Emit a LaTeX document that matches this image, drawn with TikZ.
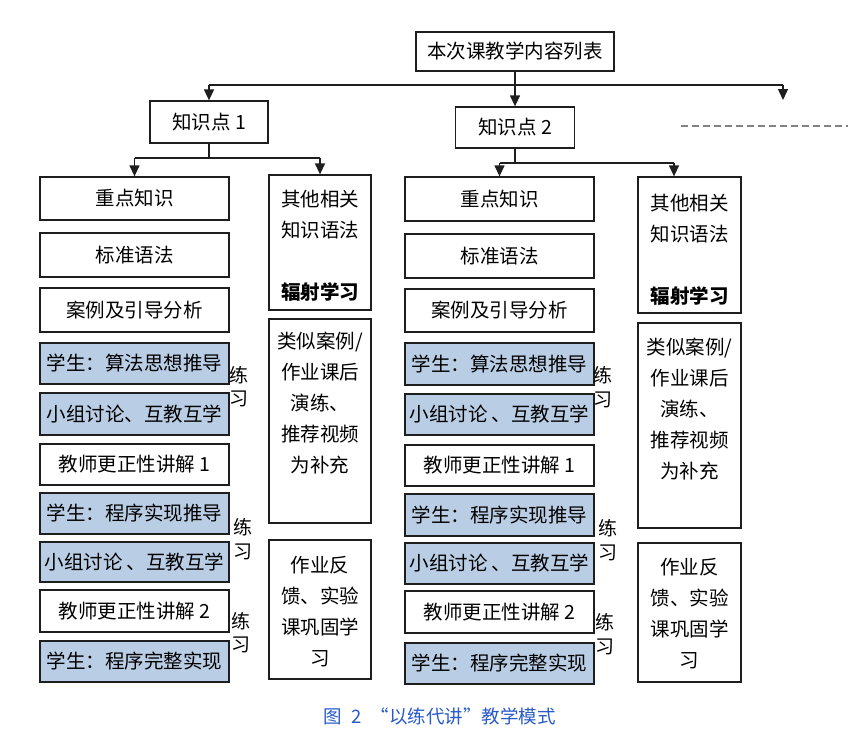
\documentclass[tikz,border=0pt]{standalone}
\usepackage{fontspec}
\setmainfont{Noto Sans CJK SC}
\usetikzlibrary{arrows.meta}
\definecolor{boxfill}{RGB}{185,205,228}
\definecolor{capblue}{RGB}{40,90,200}
\definecolor{edge}{RGB}{30,30,30}
\definecolor{dashgrey}{RGB}{130,130,130}
\begin{document}
\begin{tikzpicture}[x=1pt,y=-1pt,
  every node/.style={font=\fontsize{19.5}{23}\selectfont, inner sep=0pt},
  box/.style={draw=edge, line width=1.3pt, fill=white, minimum width=189pt, minimum height=42pt},
  sbox/.style={box, fill=boxfill},
  rbox/.style={draw=edge, line width=1.3pt, minimum width=102pt},
  arr/.style={draw=edge, line width=1.3pt, -{Triangle[width=10pt,length=11pt]}},
  ln/.style={draw=edge, line width=1.3pt},
  lx/.style={font=\fontsize{19}{23.5}\selectfont, align=center},
  rt/.style={font=\fontsize{19.5}{31}\selectfont, align=center},
]
\useasboundingbox (0,0) rectangle (864,732);

% top level
\node[box, minimum width=198pt, minimum height=39pt] (top) at (515,51.5) {本次课教学内容列表};
\node[box, minimum width=118pt] (kp1) at (209,122) {知识点 1};
\node[box, minimum width=119pt, minimum height=41pt] (kp2) at (515,127.5) {知识点 2};

\coordinate (bus) at (0,85);
\coordinate (more) at (783,100);
\draw[ln] (top.south) -- (top.south |- bus);
\draw[ln] (kp1.north |- bus) -- (more |- bus);
\draw[arr] (kp1.north |- bus) -- (kp1.north);
\draw[arr] (top.south |- bus) -- (kp2.north);
\draw[arr] (more |- bus) -- (more);

\coordinate (dashA) at (681,126);
\coordinate (dashB) at (848,126);
\draw[dashgrey, line width=2.5pt, dash pattern=on 7pt off 4pt] (dashA) -- (dashB);

% group 1 left column
\node[box, minimum height=43pt] (l1a) at (134.5,198.5) {重点知识};
\node[box, minimum height=44pt] (l1b) at (134.5,255) {标准语法};
\node[box, minimum height=44pt] (l1c) at (134.5,310) {案例及引导分析};
\node[sbox, minimum height=41pt] (l1d) at (134.5,363.5) {学生：算法思想推导};
\node[sbox, minimum height=42pt] (l1e) at (134.5,414) {小组讨论、互教互学};
\node[box, minimum height=41pt] (l1f) at (134.5,464.5) {教师更正性讲解 1};
\node[sbox, minimum height=41pt] (l1g) at (134.5,513.5) {学生：程序实现推导};
\node[sbox, minimum height=40pt] (l1h) at (134.5,562) {小组讨论 、互教互学};
\node[box, minimum height=42pt] (l1i) at (134.5,611) {教师更正性讲解 2};
\node[sbox, minimum height=41pt] (l1j) at (134.5,661.5) {学生：程序完整实现};

% group 1 right column
\node[rbox, minimum height=135pt] (r1a) at (320,242.5) {};
\node[rbox, minimum height=204pt] (r1b) at (320,421) {};
\node[rbox, minimum height=139pt] (r1c) at (320,609.5) {};
\node[rt] (t1a) at (320,245.5) {其他相关\\知识语法\\~\\\textbf{辐射学习}};
\node[rt] (t1b) at (320,403.5) {类似案例/\\作业课后\\演练、\\推荐视频\\为补充};
\node[rt] (t1c) at (320,611.5) {作业反\\馈、实验\\课巩固学\\习};

% practice labels group 1
\node[lx] (x1a) at (239,386.5) {练\\习};
\node[lx] (x1b) at (243,539) {练\\习};
\node[lx] (x1c) at (241,632.5) {练\\习};

% group 1 connectors
\coordinate (bus1) at (0,158);
\draw[ln] (kp1.south) -- (kp1.south |- bus1);
\draw[ln] (l1a.north |- bus1) -- (r1a.north |- bus1);
\draw[arr] (l1a.north |- bus1) -- (l1a.north);
\draw[arr] (r1a.north |- bus1) -- (r1a.north);

% group 2 left column
\node[box, minimum height=44pt] (l2a) at (499.5,199) {重点知识};
\node[box, minimum height=44pt] (l2b) at (499.5,256) {标准语法};
\node[box, minimum height=43pt] (l2c) at (499.5,310.5) {案例及引导分析};
\node[sbox, minimum height=42pt] (l2d) at (499.5,364) {学生：算法思想推导};
\node[sbox, minimum height=41pt] (l2e) at (499.5,414.5) {小组讨论 、互教互学};
\node[box, minimum height=41pt] (l2f) at (499.5,465.5) {教师更正性讲解 1};
\node[sbox, minimum height=42pt] (l2g) at (499.5,515) {学生：程序实现推导};
\node[sbox, minimum height=41pt] (l2h) at (499.5,563.5) {小组讨论 、互教互学};
\node[box, minimum height=42pt] (l2i) at (499.5,612) {教师更正性讲解 2};
\node[sbox, minimum height=41pt] (l2j) at (499.5,663.5) {学生：程序完整实现};

% group 2 right column
\node[rbox, minimum width=103pt, minimum height=136pt] (r2a) at (689.5,245) {};
\node[rbox, minimum width=103pt, minimum height=205pt] (r2b) at (689.5,425.5) {};
\node[rbox, minimum width=103pt, minimum height=139pt] (r2c) at (689.5,612.5) {};
\node[rt] (t2a) at (689.5,250) {其他相关\\知识语法\\~\\\textbf{辐射学习}};
\node[rt] (t2b) at (689.5,409.5) {类似案例/\\作业课后\\演练、\\推荐视频\\为补充};
\node[rt] (t2c) at (689.5,613.5) {作业反\\馈、实验\\课巩固学\\习};

% practice labels group 2
\node[lx] (x2a) at (603,387) {练\\习};
\node[lx] (x2b) at (608,540) {练\\习};
\node[lx] (x2c) at (605,634) {练\\习};

% group 2 connectors
\coordinate (bus2) at (0,163);
\coordinate (r2in) at ([xshift=-15.5pt]r2a.north);
\draw[ln] (kp2.south) -- (kp2.south |- bus2);
\draw[ln] (l2a.north |- bus2) -- (r2in |- bus2);
\draw[arr] (l2a.north |- bus2) -- (l2a.north);
\draw[arr] (r2in |- bus2) -- (r2in);

% caption
\node[font=\fontsize{18.5}{20}\selectfont, text=capblue] (cap) at (439.5,716) {图\enspace2\enspace“以练代讲”教学模式};
\end{tikzpicture}
\end{document}
